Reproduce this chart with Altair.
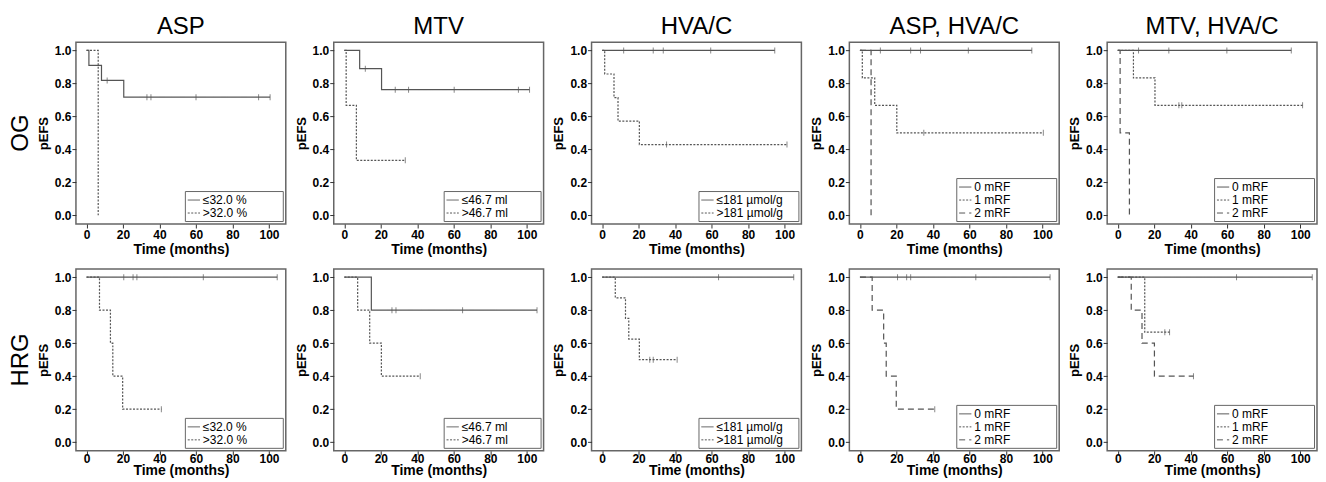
import altair as alt
import pandas as pd

FONT = "Liberation Sans"
LINE = "#555555"

COL_TITLES = ["ASP", "MTV", "HVA/C", "ASP, HVA/C", "MTV, HVA/C"]
ROW_TITLES = ["OG", "HRG"]
X_TICKS = [0, 20, 40, 60, 80, 100]
Y_TICKS = [0.0, 0.2, 0.4, 0.6, 0.8, 1.0]

ASP_LABELS = ["≤32.0 %", ">32.0 %"]
MTV_LABELS = ["≤46.7 ml", ">46.7 ml"]
HVA_LABELS = ["≤181 µmol/g", ">181 µmol/g"]
MRF_LABELS = ["0 mRF", "1 mRF", "2 mRF"]

# ---------------- OG row ----------------
# ASP
og_asp_lo_t = [0, 1.3, 8.2, 20.4, 100.6]
og_asp_lo_s = [1.0, 0.909, 0.818, 0.716, 0.716]
og_asp_lo_c = [11.3, 33.1, 35.3, 60.0, 94.3, 100.6]
og_asp_hi_t = [0, 6.4]
og_asp_hi_s = [1.0, 0.0]
og_asp_hi_c = []
# MTV
og_mtv_lo_t = [0, 8.4, 20.4, 101.5]
og_mtv_lo_s = [1.0, 0.889, 0.762, 0.762]
og_mtv_lo_c = [11.5, 27.9, 35.2, 60.2, 95.4, 101.5]
og_mtv_hi_t = [0, 1.0, 6.6, 33.4]
og_mtv_hi_s = [1.0, 0.667, 0.333, 0.333]
og_mtv_hi_c = [33.4]
# HVA/C
og_hva_lo_t = [0, 94.6]
og_hva_lo_s = [1.0, 1.0]
og_hva_lo_c = [11.8, 28.0, 33.5, 59.5, 94.6]
og_hva_hi_t = [0, 1.4, 6.5, 8.7, 20.4, 101.3]
og_hva_hi_s = [1.0, 0.857, 0.714, 0.571, 0.429, 0.429]
og_hva_hi_c = [35.3, 101.3]
# ASP, HVA/C
og_ah_0_t = [0, 94.2]
og_ah_0_s = [1.0, 1.0]
og_ah_0_c = [11.2, 27.8, 33.2, 59.4, 94.2]
og_ah_1_t = [0, 1.3, 8.1, 20.2, 100.5]
og_ah_1_s = [1.0, 0.833, 0.667, 0.5, 0.5]
og_ah_1_c = [35.0, 100.5]
og_ah_2_t = [0, 6.1]
og_ah_2_s = [1.0, 0.0]
og_ah_2_c = []
# MTV, HVA/C
og_mh_0_t = [0, 95.1]
og_mh_0_s = [1.0, 1.0]
og_mh_0_c = [11.4, 28.0, 59.8, 95.1]
og_mh_1_t = [0, 8.6, 20.4, 101.3]
og_mh_1_s = [1.0, 0.833, 0.667, 0.667]
og_mh_1_c = [33.5, 35.1, 101.3]
og_mh_2_t = [0, 1.3, 6.4]
og_mh_2_s = [1.0, 0.5, 0.0]
og_mh_2_c = []

# ---------------- HRG row ----------------
# ASP
hr_asp_lo_t = [0, 104.5]
hr_asp_lo_s = [1.0, 1.0]
hr_asp_lo_c = [20.4, 25.5, 27.6, 64.0, 104.5]
hr_asp_hi_t = [0, 7.1, 13.1, 14.4, 19.8, 41.0]
hr_asp_hi_s = [1.0, 0.8, 0.6, 0.4, 0.2, 0.2]
hr_asp_hi_c = [41.0]
# MTV
hr_mtv_lo_t = [0, 14.8, 105.6]
hr_mtv_lo_s = [1.0, 0.8, 0.8]
hr_mtv_lo_c = [26.1, 28.3, 64.8, 105.6]
hr_mtv_hi_t = [0, 7.3, 13.9, 20.3, 41.6]
hr_mtv_hi_s = [1.0, 0.8, 0.6, 0.4, 0.4]
hr_mtv_hi_c = [41.6]
# HVA/C
hr_hva_lo_t = [0, 105.0]
hr_hva_lo_s = [1.0, 1.0]
hr_hva_lo_c = [63.8, 105.0]
hr_hva_hi_t = [0, 7.2, 12.8, 14.6, 20.4, 41.1]
hr_hva_hi_s = [1.0, 0.875, 0.75, 0.625, 0.5, 0.5]
hr_hva_hi_c = [26.1, 28.0, 41.1]
# ASP, HVA/C
hr_ah_0_t = [0, 104.2]
hr_ah_0_s = [1.0, 1.0]
hr_ah_0_c = [20.6, 25.6, 27.8, 63.5, 104.2]
hr_ah_1_t = []
hr_ah_1_s = []
hr_ah_1_c = []
hr_ah_2_t = [0, 6.7, 13.0, 14.4, 19.9, 41.0]
hr_ah_2_s = [1.0, 0.8, 0.6, 0.4, 0.2, 0.2]
hr_ah_2_c = [41.0]
# MTV, HVA/C
hr_mh_0_t = [0, 106.6]
hr_mh_0_s = [1.0, 1.0]
hr_mh_0_c = [65.1, 106.6]
hr_mh_1_t = [0, 14.8, 28.4]
hr_mh_1_s = [1.0, 0.667, 0.667]
hr_mh_1_c = [25.8, 28.4]
hr_mh_2_t = [0, 7.4, 13.3, 20.1, 41.5]
hr_mh_2_s = [1.0, 0.8, 0.6, 0.4, 0.4]
hr_mh_2_c = [41.5]

DASH2 = [[1, 0], [2, 1.5]]
DASH3 = [[1, 0], [2, 1.5], [6, 4]]


def frames(groups):
    line_rows, cens_rows = [], []
    for label, t, s, c in groups:
        for ti, si in zip(t, s):
            line_rows.append({"group": label, "time": ti, "surv": si})
        for ci in c:
            sv = [si for ti, si in zip(t, s) if ti <= ci][-1]
            cens_rows.append({"group": label, "time": ci, "surv": sv})
    return pd.DataFrame(line_rows), pd.DataFrame(cens_rows)


def panel(groups, labels, dashes, pad, title=None, bottom=False):
    line_df, cens_df = frames(groups)
    if bottom:
        x_axis = alt.Axis(values=X_TICKS, title="Time (months)", labelPadding=-1, titlePadding=-1)
    else:
        x_axis = alt.Axis(values=X_TICKS, title="Time (months)")
    x = alt.X("time:Q", scale=alt.Scale(domain=[-5.8, 109.2], nice=False, zero=False),
              axis=x_axis)
    y = alt.Y("surv:Q", scale=alt.Scale(domain=[-0.053, 1.05], nice=False, zero=False),
              axis=alt.Axis(values=Y_TICKS, format=".1f", title="pEFS"))
    # trailing no-break spaces (kept by a zero-width char) widen the legend box
    label_expr = "datum.label + '" + "\u00a0" * pad + "\u200b'"
    lines = alt.Chart(line_df).mark_line(
        interpolate="step-after", color=LINE, strokeWidth=1.2
    ).encode(
        x=x, y=y,
        strokeDash=alt.StrokeDash(
            "group:N", title=None,
            scale=alt.Scale(domain=labels, range=dashes),
            legend=alt.Legend(labelExpr=label_expr),
        ),
    )
    ticks = alt.Chart(cens_df).mark_tick(
        orient="vertical", size=6, thickness=1, color=LINE
    ).encode(x=x, y=y)
    ch = alt.layer(lines, ticks).properties(width=210, height=182)
    if title is not None:
        ch = ch.properties(title=alt.TitleParams(
            title, fontSize=24, fontWeight="normal", font=FONT, color="black",
            offset=3, anchor="middle", frame="group"))
    return ch


def row_label(text):
    return alt.Chart(pd.DataFrame({"label": [text]})).mark_text(
        angle=270, fontSize=24, font=FONT, color="black",
        align="center", baseline="middle"
    ).encode(text="label:N").properties(
        width=14, height=182, view=alt.ViewBackground(stroke="transparent")
    )


row1 = [
    row_label(ROW_TITLES[0]),
    panel([(ASP_LABELS[0], og_asp_lo_t, og_asp_lo_s, og_asp_lo_c),
           (ASP_LABELS[1], og_asp_hi_t, og_asp_hi_s, og_asp_hi_c)], ASP_LABELS, DASH2, 10, COL_TITLES[0]),
    panel([(MTV_LABELS[0], og_mtv_lo_t, og_mtv_lo_s, og_mtv_lo_c),
           (MTV_LABELS[1], og_mtv_hi_t, og_mtv_hi_s, og_mtv_hi_c)], MTV_LABELS, DASH2, 9, COL_TITLES[1]),
    panel([(HVA_LABELS[0], og_hva_lo_t, og_hva_lo_s, og_hva_lo_c),
           (HVA_LABELS[1], og_hva_hi_t, og_hva_hi_s, og_hva_hi_c)], HVA_LABELS, DASH2, 4, COL_TITLES[2]),
    panel([(MRF_LABELS[0], og_ah_0_t, og_ah_0_s, og_ah_0_c),
           (MRF_LABELS[1], og_ah_1_t, og_ah_1_s, og_ah_1_c),
           (MRF_LABELS[2], og_ah_2_t, og_ah_2_s, og_ah_2_c)], MRF_LABELS, DASH3, 13, COL_TITLES[3]),
    panel([(MRF_LABELS[0], og_mh_0_t, og_mh_0_s, og_mh_0_c),
           (MRF_LABELS[1], og_mh_1_t, og_mh_1_s, og_mh_1_c),
           (MRF_LABELS[2], og_mh_2_t, og_mh_2_s, og_mh_2_c)], MRF_LABELS, DASH3, 13, COL_TITLES[4]),
]
row2 = [
    row_label(ROW_TITLES[1]),
    panel([(ASP_LABELS[0], hr_asp_lo_t, hr_asp_lo_s, hr_asp_lo_c),
           (ASP_LABELS[1], hr_asp_hi_t, hr_asp_hi_s, hr_asp_hi_c)], ASP_LABELS, DASH2, 10, bottom=True),
    panel([(MTV_LABELS[0], hr_mtv_lo_t, hr_mtv_lo_s, hr_mtv_lo_c),
           (MTV_LABELS[1], hr_mtv_hi_t, hr_mtv_hi_s, hr_mtv_hi_c)], MTV_LABELS, DASH2, 9, bottom=True),
    panel([(HVA_LABELS[0], hr_hva_lo_t, hr_hva_lo_s, hr_hva_lo_c),
           (HVA_LABELS[1], hr_hva_hi_t, hr_hva_hi_s, hr_hva_hi_c)], HVA_LABELS, DASH2, 4, bottom=True),
    panel([(MRF_LABELS[0], hr_ah_0_t, hr_ah_0_s, hr_ah_0_c),
           (MRF_LABELS[1], hr_ah_1_t, hr_ah_1_s, hr_ah_1_c),
           (MRF_LABELS[2], hr_ah_2_t, hr_ah_2_s, hr_ah_2_c)], MRF_LABELS, DASH3, 13, bottom=True),
    panel([(MRF_LABELS[0], hr_mh_0_t, hr_mh_0_s, hr_mh_0_c),
           (MRF_LABELS[1], hr_mh_1_t, hr_mh_1_s, hr_mh_1_c),
           (MRF_LABELS[2], hr_mh_2_t, hr_mh_2_s, hr_mh_2_c)], MRF_LABELS, DASH3, 13, bottom=True),
]

r1 = alt.hconcat(*row1, spacing=48, bounds="flush").resolve_scale(
    x="independent", y="independent", strokeDash="independent")
r2 = alt.hconcat(*row2, spacing=48, bounds="flush").resolve_scale(
    x="independent", y="independent", strokeDash="independent")

chart = alt.vconcat(r1, r2, spacing=10).resolve_scale(
    x="independent", y="independent", strokeDash="independent"
).properties(
    padding={"left": 0, "top": 6, "right": 0, "bottom": 0}
).configure_axis(
    grid=False, domain=False, tickSize=4, tickColor="#333333", tickWidth=1,
    labelFont=FONT, labelFontSize=12, labelFontWeight="bold", labelColor="black",
    labelPadding=1, titleFont=FONT, titleFontWeight="bold", titleColor="black",
).configure_axisX(
    titleFontSize=14, titlePadding=3
).configure_axisY(
    titleFontSize=13, titlePadding=4
).configure_view(
    stroke="#666666", strokeWidth=1.5
).configure_legend(
    orient="bottom-right", offset=3, fillColor="white", strokeColor="#666666",
    padding=2, labelFont=FONT, labelFontSize=12, labelColor="black",
    labelOffset=2, symbolType="stroke", symbolSize=150, symbolStrokeWidth=1,
    symbolStrokeColor=LINE, rowPadding=0,
)

chart.save("out.html", embed_options={"renderer": "svg", "actions": False})
